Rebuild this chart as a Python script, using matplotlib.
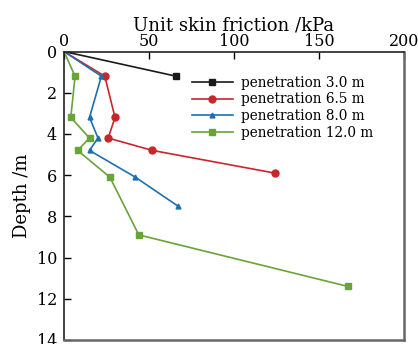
import matplotlib
matplotlib.use("Agg")
import matplotlib.pyplot as plt

plt.rcParams['font.family'] = ['DejaVu Serif']
plt.rcParams['mathtext.fontset'] = 'dejavuserif'

labels = ["penetration 3.0 m", "penetration 6.5 m", "penetration 8.0 m", "penetration 12.0 m"]
colors = ["#1a1a1a", "#c8262c", "#1f6fae", "#6aa337"]
markers = ["s", "o", "^", "s"]

friction_3_0 = [0, 66]
depth_3_0 = [0, 1.2]

friction_6_5 = [0, 24, 30, 26, 52, 124]
depth_6_5 = [0, 1.2, 3.2, 4.2, 4.8, 5.9]

friction_8_0 = [0, 22, 15, 20, 15, 42, 67]
depth_8_0 = [0, 1.2, 3.2, 4.2, 4.8, 6.1, 7.5]

friction_12_0 = [0, 6.5, 4, 15, 8, 27, 44, 167]
depth_12_0 = [0, 1.2, 3.2, 4.2, 4.8, 6.1, 8.9, 11.4]

series = [(friction_3_0, depth_3_0), (friction_6_5, depth_6_5),
          (friction_8_0, depth_8_0), (friction_12_0, depth_12_0)]

fig = plt.figure(figsize=(4.18, 3.44), dpi=100)
ax = fig.add_axes([64/418, 1 - 340/344, (404-64)/418, (340-51.5)/344])

sizes = {"s": 4, "o": 5, "^": 3.5}
for (x, y), lab, c, m in zip(series, labels, colors, markers):
    ax.plot(x, y, color=c, marker=m, markersize=sizes[m], linewidth=1.2,
            label=lab, markevery=list(range(1, len(x))))

ax.set_xlim(0, 200)
ax.set_ylim(14, 0)
ax.set_xticks([0, 50, 100, 150, 200])
ax.set_yticks(range(0, 15, 2))
ax.xaxis.tick_top()
ax.xaxis.set_label_position('top')
ax.set_xlabel("Unit skin friction /kPa", fontsize=13, labelpad=2)
ax.set_ylabel("Depth /m", fontsize=13, labelpad=4)
ax.tick_params(axis='both', direction='in', labelsize=11.5, length=5, width=1)
ax.tick_params(axis='x', top=True, bottom=False, pad=1)
ax.tick_params(axis='y', pad=5)
for side in ['top', 'left']:
    ax.spines[side].set_color('#222222')
    ax.spines[side].set_linewidth(1.2)
for side in ['right', 'bottom']:
    ax.spines[side].set_color('#666666')
    ax.spines[side].set_linewidth(1.8)

ax.legend(loc='upper left', bbox_to_anchor=(0.36, 0.935), frameon=False,
          fontsize=9.8, handlelength=3.0, handletextpad=0.6, labelspacing=0.2,
          borderaxespad=0)

fig.savefig("out.png", dpi=100)
